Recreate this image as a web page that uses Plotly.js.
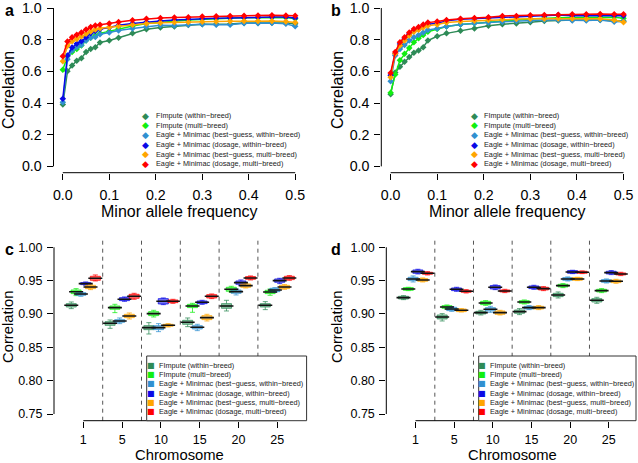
<!DOCTYPE html>
<html>
<head>
<meta charset="utf-8">
<script src="https://cdn.plot.ly/plotly-3.0.1.min.js"></script>
<style>html,body{margin:0;padding:0;background:#fff}#chart{width:638px;height:463px}</style>
</head>
<body>
<div id="chart"></div>
<script>
// ---------------- data ----------------
const maf = [0, 0.01, 0.02, 0.03, 0.04, 0.05, 0.06, 0.07, 0.08, 0.10, 0.12, 0.15, 0.18, 0.21, 0.24, 0.27, 0.30, 0.33, 0.36, 0.39, 0.42, 0.45, 0.48, 0.50];
const mafTicks = [0, 0.1, 0.2, 0.3, 0.4, 0.5];
const corrTicksAB = [0, 0.2, 0.4, 0.6, 0.8, 1.0];
const corrTicksCD = [0.75, 0.80, 0.85, 0.90, 0.95, 1.00];
const chromLabels = ['1', '5', '10', '15', '20', '25'];
const seriesNames = [
  'FImpute (within\u2212breed)',
  'FImpute (multi\u2212breed)',
  'Eagle + Minimac (best\u2212guess, within\u2212breed)',
  'Eagle + Minimac (dosage, within\u2212breed)',
  'Eagle + Minimac (best\u2212guess, multi\u2212breed)',
  'Eagle + Minimac (dosage, multi\u2212breed)'
];
const seriesColors = ['#2E8B57', '#11EE11', '#3090D0', '#0A0AE6', '#FFA500', '#FF0000'];

// panel a, correlation by MAF
const a_fiw = [0.390,0.600,0.637,0.667,0.683,0.722,0.742,0.753,0.783,0.795,0.812,0.840,0.866,0.877,0.883,0.893,0.897,0.898,0.899,0.905,0.905,0.907,0.905,0.900];
const a_fim = [0.610,0.695,0.722,0.742,0.763,0.795,0.813,0.826,0.840,0.854,0.870,0.887,0.903,0.912,0.917,0.925,0.930,0.933,0.936,0.939,0.940,0.942,0.940,0.932];
const a_bgw = [0.405,0.676,0.732,0.752,0.767,0.795,0.812,0.817,0.835,0.846,0.858,0.871,0.883,0.891,0.890,0.894,0.897,0.895,0.895,0.904,0.904,0.905,0.900,0.885];
const a_dsw = [0.427,0.700,0.750,0.775,0.790,0.815,0.840,0.855,0.868,0.877,0.891,0.903,0.912,0.918,0.924,0.929,0.933,0.935,0.937,0.940,0.941,0.943,0.943,0.937];
const a_bgm = [0.664,0.760,0.790,0.805,0.820,0.838,0.852,0.865,0.872,0.878,0.887,0.895,0.902,0.907,0.910,0.912,0.914,0.915,0.916,0.918,0.918,0.918,0.915,0.908];
const a_dsm = [0.695,0.788,0.815,0.832,0.846,0.865,0.880,0.890,0.895,0.902,0.912,0.923,0.932,0.937,0.940,0.942,0.947,0.948,0.950,0.952,0.953,0.955,0.953,0.952];

// panel b
const b_fiw = [0.455,0.593,0.629,0.660,0.691,0.718,0.732,0.753,0.795,0.822,0.840,0.857,0.870,0.888,0.898,0.903,0.910,0.918,0.922,0.924,0.924,0.925,0.920,0.918];
const b_fim = [0.465,0.581,0.670,0.711,0.747,0.784,0.809,0.830,0.850,0.867,0.884,0.896,0.904,0.913,0.919,0.925,0.930,0.935,0.938,0.940,0.941,0.942,0.942,0.936];
const b_bgw = [0.537,0.701,0.742,0.767,0.795,0.815,0.830,0.846,0.861,0.871,0.884,0.896,0.904,0.908,0.913,0.918,0.922,0.924,0.925,0.922,0.922,0.925,0.913,0.915];
const b_dsw = [0.575,0.711,0.773,0.805,0.836,0.857,0.867,0.882,0.898,0.904,0.919,0.929,0.933,0.937,0.942,0.945,0.948,0.950,0.956,0.952,0.953,0.955,0.953,0.952];
const b_bgm = [0.563,0.712,0.763,0.795,0.826,0.850,0.863,0.877,0.888,0.896,0.908,0.915,0.919,0.925,0.929,0.930,0.932,0.933,0.934,0.934,0.933,0.932,0.925,0.910];
const b_dsm = [0.590,0.722,0.784,0.815,0.846,0.867,0.880,0.896,0.908,0.915,0.925,0.933,0.937,0.942,0.950,0.950,0.954,0.956,0.958,0.960,0.960,0.962,0.960,0.960];

// panel c: per chromosome [lower whisker, q1, median, q3, upper whisker]
const c_fiw = [[0.908,0.9105,0.913,0.9155,0.918],[0.8785,0.883,0.886,0.8885,0.891],[0.870,0.8765,0.8795,0.8825,0.887],[0.881,0.8845,0.8875,0.8905,0.894],[0.9045,0.9085,0.912,0.9155,0.9205],[0.9065,0.9105,0.913,0.9155,0.9185]];
const c_fim = [[0.9275,0.9305,0.9334,0.936,0.938],[0.902,0.907,0.9095,0.912,0.9145],[0.8955,0.8975,0.9005,0.9035,0.9055],[0.9025,0.9095,0.912,0.9145,0.916],[0.9325,0.934,0.937,0.940,0.9415],[0.928,0.9305,0.933,0.9355,0.9375]];
const c_bgw = [[0.9265,0.928,0.930,0.932,0.933],[0.8855,0.8875,0.8895,0.8915,0.894],[0.8735,0.8765,0.8795,0.8825,0.8855],[0.875,0.8775,0.880,0.8825,0.8845],[0.9285,0.931,0.9335,0.936,0.9375],[0.9325,0.9335,0.936,0.9385,0.9395]];
const c_dsw = [[0.943,0.944,0.9455,0.947,0.948],[0.919,0.920,0.922,0.9245,0.9255],[0.914,0.915,0.919,0.923,0.924],[0.9145,0.9155,0.9175,0.9195,0.9205],[0.943,0.9445,0.947,0.9495,0.951],[0.9455,0.9475,0.950,0.9525,0.9535]];
const c_bgm = [[0.9365,0.938,0.9405,0.943,0.9445],[0.8925,0.8945,0.897,0.8995,0.9015],[0.8805,0.8815,0.883,0.8845,0.8855],[0.8895,0.8915,0.8945,0.8975,0.8995],[0.939,0.940,0.9425,0.945,0.946],[0.937,0.938,0.9405,0.943,0.944]];
const c_dsm = [[0.9495,0.9505,0.9535,0.9565,0.9585],[0.922,0.9235,0.9265,0.9295,0.931],[0.916,0.917,0.919,0.921,0.922],[0.923,0.924,0.9265,0.929,0.930],[0.951,0.952,0.954,0.956,0.957],[0.9505,0.9515,0.954,0.9565,0.9575]];

// panel d
const d_fiw = [[0.9215,0.9225,0.9245,0.9265,0.9275],[0.8895,0.8925,0.8955,0.8985,0.9005],[0.8985,0.900,0.902,0.904,0.9055],[0.899,0.901,0.9035,0.906,0.908],[0.924,0.926,0.9285,0.931,0.933],[0.916,0.918,0.9205,0.923,0.925]];
const d_fim = [[0.935,0.9355,0.9375,0.9395,0.940],[0.9075,0.9085,0.9105,0.9125,0.9135],[0.913,0.914,0.9165,0.919,0.920],[0.915,0.916,0.918,0.920,0.921],[0.9395,0.9405,0.9425,0.9445,0.9455],[0.932,0.933,0.935,0.937,0.938]];
const d_bgw = [[0.948,0.950,0.9525,0.955,0.957],[0.904,0.905,0.9075,0.910,0.911],[0.9025,0.9045,0.907,0.9095,0.9115],[0.9065,0.9075,0.9095,0.9115,0.9125],[0.9495,0.9505,0.9525,0.9545,0.9555],[0.9465,0.9475,0.9495,0.9515,0.9525]];
const d_dsw = [[0.960,0.961,0.9635,0.966,0.967],[0.934,0.935,0.937,0.939,0.940],[0.9365,0.9375,0.940,0.9425,0.9435],[0.937,0.938,0.940,0.942,0.943],[0.9605,0.961,0.963,0.965,0.9655],[0.959,0.960,0.962,0.964,0.965]];
const d_bgm = [[0.948,0.949,0.951,0.953,0.954],[0.903,0.9035,0.9055,0.9075,0.908],[0.8985,0.8995,0.902,0.9045,0.9055],[0.9065,0.9075,0.9095,0.9115,0.9125],[0.950,0.9505,0.9525,0.9545,0.955],[0.946,0.947,0.949,0.951,0.952]];
const d_dsm = [[0.9585,0.9595,0.961,0.9625,0.9635],[0.9315,0.9325,0.934,0.9355,0.9365],[0.932,0.933,0.9345,0.936,0.937],[0.935,0.936,0.938,0.940,0.941],[0.9605,0.961,0.9625,0.964,0.9645],[0.9575,0.9585,0.960,0.9615,0.9625]];

// ---------------- drawing ----------------
const W = 638, H = 463;
const px = v => v / W, py = v => 1 - v / H;
const FONT = 'Liberation Sans, Arial, Helvetica, sans-serif';
function rgba(hex, a) {
  const n = parseInt(hex.slice(1), 16);
  return 'rgba(' + (n >> 16 & 255) + ',' + (n >> 8 & 255) + ',' + (n & 255) + ',' + a + ')';
}

const traces = [];
const aSeries = [a_fiw, a_fim, a_bgw, a_dsw, a_bgm, a_dsm];
const bSeries = [b_fiw, b_fim, b_bgw, b_dsw, b_bgm, b_dsm];
[[aSeries, 'x', 'y'], [bSeries, 'x2', 'y2']].forEach(([ser, xa, ya]) => {
  ser.forEach((vals, k) => {
    traces.push({
      type: 'scatter', mode: 'lines+markers', x: maf, y: vals, xaxis: xa, yaxis: ya,
      name: seriesNames[k], showlegend: false, hoverinfo: 'skip',
      line: {color: seriesColors[k], width: 1.5},
      marker: {symbol: 'diamond', size: 5, color: seriesColors[k]}
    });
  });
});

const cSeries = [c_fiw, c_fim, c_bgw, c_dsw, c_bgm, c_dsm];
const dSeries = [d_fiw, d_fim, d_bgw, d_dsw, d_bgm, d_dsm];
const boxStep = 0.124;
[[cSeries, 'x3', 'y3'], [dSeries, 'x4', 'y4']].forEach(([ser, xa, ya]) => {
  ser.forEach((rows, k) => {
    const xs = chromLabels.map((_, g) => g + 1 + (k - 2.5) * boxStep);
    traces.push({
      type: 'box', orientation: 'v', xaxis: xa, yaxis: ya, x: xs,
      lowerfence: rows.map(r => r[0]), q1: rows.map(r => r[1]), median: rows.map(r => r[2]),
      q3: rows.map(r => r[3]), upperfence: rows.map(r => r[4]),
      width: 0.26, whiskerwidth: 0.5, boxpoints: false,
      fillcolor: rgba(seriesColors[k], 0.55),
      line: {color: rgba(seriesColors[k], 0.75), width: 1},
      name: seriesNames[k], showlegend: false, hoverinfo: 'skip'
    });
    traces.push({
      type: 'scatter', mode: 'markers', xaxis: xa, yaxis: ya, x: xs, y: rows.map(r => r[2]),
      marker: {symbol: 'line-ew', size: 10, line: {color: '#111', width: 1.6}},
      showlegend: false, hoverinfo: 'skip'
    });
  });
});

function axisBase(extra) {
  return Object.assign({
    showgrid: false, zeroline: false, showline: false, ticks: 'outside', ticklen: 6,
    tickwidth: 1, tickcolor: '#000', fixedrange: true, ticklabelstandoff: 2,
    ticklabeloverflow: 'allow'
  }, extra);
}
const tickAB = {family: FONT, size: 14.2, color: '#000'};
const tickCD = {family: FONT, size: 12.5, color: '#000'};
const topAB = 2.5;   // top pixel of panels a and b

const layout = {
  width: W, height: H, margin: {l: 0, r: 0, t: 0, b: 0, pad: 0},
  paper_bgcolor: '#fff', plot_bgcolor: 'rgba(0,0,0,0)',
  font: {family: FONT, color: '#000'}, showlegend: false, boxmode: 'overlay',
  xaxis: axisBase({domain: [px(53.5), px(304.5)], range: [-0.02, 0.52], anchor: 'y',
    tickvals: mafTicks, tickformat: '.1f', tickfont: tickAB, ticklabelstandoff: 3}),
  yaxis: axisBase({domain: [py(172.7), py(topAB)], range: [-0.04, 1.035], anchor: 'x',
    tickvals: corrTicksAB, tickformat: '.1f', tickfont: tickAB}),
  xaxis2: axisBase({domain: [px(381.3), px(632.8)], range: [-0.02, 0.52], anchor: 'y2',
    tickvals: mafTicks, tickformat: '.1f', tickfont: tickAB, ticklabelstandoff: 3}),
  yaxis2: axisBase({domain: [py(172.7), py(topAB)], range: [-0.04, 1.035], anchor: 'x2',
    tickvals: corrTicksAB, tickformat: '.1f', tickfont: tickAB}),
  xaxis3: axisBase({domain: [px(54), px(306.6)], range: [0.245, 6.755], anchor: 'y3',
    tickvals: chromLabels.map((_, g) => g + 1), ticktext: chromLabels, tickfont: tickCD, ticklabelstandoff: 1}),
  yaxis3: axisBase({domain: [py(420.7), py(240.6)], range: [0.74, 1.01], anchor: 'x3',
    tickvals: corrTicksCD, tickformat: '.2f', tickfont: tickCD}),
  xaxis4: axisBase({domain: [px(386.3), px(638)], range: [0.245, 6.755], anchor: 'y4',
    tickvals: chromLabels.map((_, g) => g + 1), ticktext: chromLabels, tickfont: tickCD, ticklabelstandoff: 1}),
  yaxis4: axisBase({domain: [py(420.7), py(240.6)], range: [0.74, 1.01], anchor: 'x4',
    tickvals: corrTicksCD, tickformat: '.2f', tickfont: tickCD}),
  shapes: [],
  annotations: []
};

// R-style axis lines (from first to last tick)
const axLine = {color: '#000', width: 1};
[['x', 'y', 0, 0.5, 0, 1], ['x2', 'y2', 0, 0.5, 0, 1], ['x3', 'y3', 1, 6, 0.75, 1.0], ['x4', 'y4', 1, 6, 0.75, 1.0]]
  .forEach(([xa, ya, x0, x1, y0, y1]) => {
    layout.shapes.push({type: 'line', xref: xa, yref: ya + ' domain', x0: x0, x1: x1, y0: 0, y1: 0, line: axLine, layer: 'above'});
    layout.shapes.push({type: 'line', xref: xa + ' domain', yref: ya, x0: 0, x1: 0, y0: y0, y1: y1, line: axLine, layer: 'above'});
  });

// dashed separators between chromosomes
['x3', 'x4'].forEach(xa => {
  for (let g = 1; g < chromLabels.length; g++) {
    layout.shapes.push({type: 'line', xref: xa, yref: (xa === 'x3' ? 'y3' : 'y4') + ' domain',
      x0: g + 0.5, x1: g + 0.5, y0: 0, y1: 1, layer: 'below',
      line: {color: '#555', width: 1, dash: '4px,4px'}});
  }
});

// legend boxes for c and d
[[146.7, 306.6], [478.7, 636]].forEach(([l, r]) => {
  layout.shapes.push({type: 'rect', xref: 'paper', yref: 'paper', x0: px(l), x1: px(r), y0: py(420.7), y1: py(356),
    fillcolor: '#fff', line: {color: '#333', width: 1}, layer: 'above'});
});

function ann(x, y, text, opts) {
  layout.annotations.push(Object.assign({xref: 'paper', yref: 'paper', x: px(x), y: py(y), text: text,
    showarrow: false, xanchor: 'center', yanchor: 'middle', font: {family: FONT, size: 14, color: '#000'}}, opts || {}));
}

// panel letters
ann(9, 10, '<b>a</b>', {font: {family: FONT, size: 16, color: '#000'}});
ann(336, 10, '<b>b</b>', {font: {family: FONT, size: 16, color: '#000'}});
ann(9, 250, '<b>c</b>', {font: {family: FONT, size: 16, color: '#000'}});
ann(336, 250, '<b>d</b>', {font: {family: FONT, size: 16, color: '#000'}});

// axis titles
const tAB = {family: FONT, size: 16, color: '#000'};
const tCD = {family: FONT, size: 14.8, color: '#000'};
ann(8, 90, 'Correlation', {textangle: -90, font: tAB});
ann(337, 90, 'Correlation', {textangle: -90, font: tAB});
ann(179, 211, 'Minor allele frequency', {font: tAB});
ann(507, 211, 'Minor allele frequency', {font: tAB});
ann(8, 327, 'Correlation', {textangle: -90, font: tCD});
ann(337, 327, 'Correlation', {textangle: -90, font: tCD});
ann(180, 455, 'Chromosome', {font: tCD});
ann(512, 455, 'Chromosome', {font: tCD});

// legends
const legFont = {family: FONT, size: 7.3, color: '#222'};
[[145.7, 155, 115.7, 9.6, '\u25C6'], [474.7, 483, 115.7, 9.6, '\u25C6'],
 [151, 158, 365.3, 9.33, '\u25A0'], [482, 489, 365.3, 9.33, '\u25A0']].forEach(([sx, tx, y0, dy, sym]) => {
  seriesNames.forEach((nm, k) => {
    const y = y0 + k * dy;
    ann(sx, y, sym, {font: {family: 'DejaVu Sans, sans-serif', size: sym === '\u25C6' ? 9 : 8, color: seriesColors[k]}});
    ann(tx, y, nm, {xanchor: 'left', font: legFont, borderpad: 0});
  });
});

Plotly.newPlot('chart', traces, layout, {displayModeBar: false, staticPlot: true});
</script>
</body>
</html>
